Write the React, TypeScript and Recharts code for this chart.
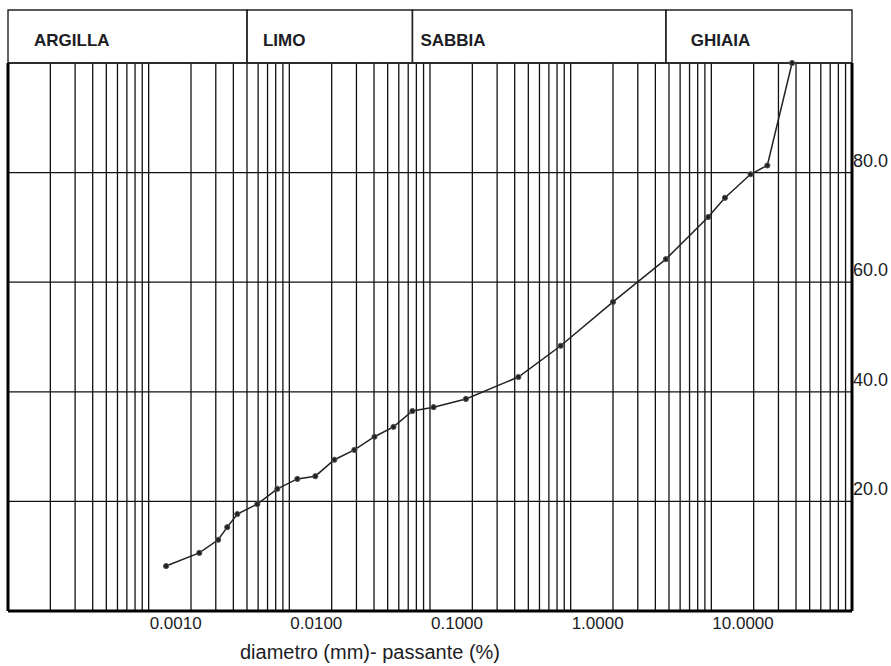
import { LineChart, Line, XAxis, YAxis, CartesianGrid, ReferenceArea, ReferenceLine } from 'recharts';

// grain size curve (mm / % passing)
const diametro = [
  0.00133, 0.00229, 0.00312, 0.00362, 0.00427, 0.00592, 0.00822, 0.0114, 0.0153,
  0.0209, 0.029, 0.0403, 0.055, 0.075, 0.106, 0.18, 0.425, 0.85, 2, 4.75, 9.5,
  12.5, 19, 25, 37.5,
];
const passante = [
  8.2, 10.6, 13.0, 15.3, 17.7, 19.5, 22.3, 24.1, 24.6, 27.6, 29.4, 31.8, 33.6,
  36.5, 37.2, 38.7, 42.7, 48.4, 56.4, 64.2, 71.9, 75.4, 79.7, 81.3, 100,
];

const decades = [0.0001, 0.001, 0.01, 0.1, 1, 10];
const labelledDecades = [0.001, 0.01, 0.1, 1, 10];
const yTicks = [20, 40, 60, 80];

const zoneNames = ['ARGILLA', 'LIMO', 'SABBIA', 'GHIAIA'];
const zoneLimits = [0.0001, 0.005, 0.075, 4.75, 100];

const zoneLabelInset = [26, 16, 8, 25];
const headerTop = 109.67;

const data = diametro.map((d, i) => ({ d, p: passante[i] }));

const xTicks: number[] = [];
decades.forEach((dec) => {
  for (let m = 1; m <= 9; m++) xTicks.push(+(dec * m).toPrecision(3));
});
xTicks.push(100);

const FONT = '"Liberation Sans", Arial, sans-serif';
const INK = '#1c1c24';

const XTick = (props: any) => {
  const { x, y, payload } = props;
  const v = payload.value;
  if (!labelledDecades.some((d) => Math.abs(d - v) / d < 1e-6)) return null;
  return (
    <text x={x + 1} y={y + 10} textAnchor="start" fontFamily={FONT} fontSize={17} fill={INK}>
      {v.toFixed(4)}
    </text>
  );
};

const YTick = (props: any) => {
  const { x, y, payload } = props;
  return (
    <text x={x - 7} y={y - 6} textAnchor="start" fontFamily={FONT} fontSize={18} fill={INK}>
      {Number(payload.value).toFixed(1)}
    </text>
  );
};

export default function App() {
  return (
    <div style={{ position: 'absolute', left: 0, top: 0, width: 891, height: 666, background: '#fff' }}>
      <LineChart width={891} height={666} data={data} margin={{ top: 63, right: 0, bottom: 0, left: 8 }}>
        <CartesianGrid stroke="#111" strokeWidth={1.3} />
        <XAxis
          dataKey="d"
          type="number"
          scale="log"
          domain={[0.0001, 100]}
          ticks={xTicks}
          interval={0}
          allowDataOverflow
          tickLine={false}
          axisLine={{ stroke: '#000', strokeWidth: 3 }}
          tick={<XTick />}
          height={55}
          label={{
            content: ({ viewBox }: any) => (
              <text x={viewBox.x + 362} y={viewBox.y + viewBox.height - 7} textAnchor="middle" fontFamily={FONT} fontSize={20} fill={INK}>
                diametro (mm)- passante (%)
              </text>
            ),
          }}
        />
        <YAxis
          orientation="right"
          type="number"
          domain={[0, 100]}
          ticks={yTicks}
          interval={0}
          width={39}
          tickLine={false}
          axisLine={{ stroke: '#000', strokeWidth: 3 }}
          tick={<YTick />}
        />
        <ReferenceLine x={0.0001} stroke="#000" strokeWidth={3} ifOverflow="visible" />
        {zoneNames.map((name, i) => (
          <ReferenceArea
            key={name}
            x1={zoneLimits[i]}
            x2={zoneLimits[i + 1]}
            y1={100}
            y2={headerTop}
            ifOverflow="visible"
            fill="none"
            stroke="#222"
            strokeWidth={1.4}
            label={{
              content: ({ viewBox }: any) => (
                <text
                  x={viewBox.x + zoneLabelInset[i]}
                  y={viewBox.y + viewBox.height / 2 + 9}
                  textAnchor="start"
                  fontFamily={FONT}
                  fontWeight="bold"
                  fontSize={17}
                  fill={INK}
                >
                  {name}
                </text>
              ),
            }}
          />
        ))}
        <Line
          type="linear"
          dataKey="p"
          stroke="#222"
          strokeWidth={1.5}
          dot={{ r: 2.6, fill: '#222', stroke: '#555', strokeWidth: 1 }}
          isAnimationActive={false}
        />
      </LineChart>
    </div>
  );
}
